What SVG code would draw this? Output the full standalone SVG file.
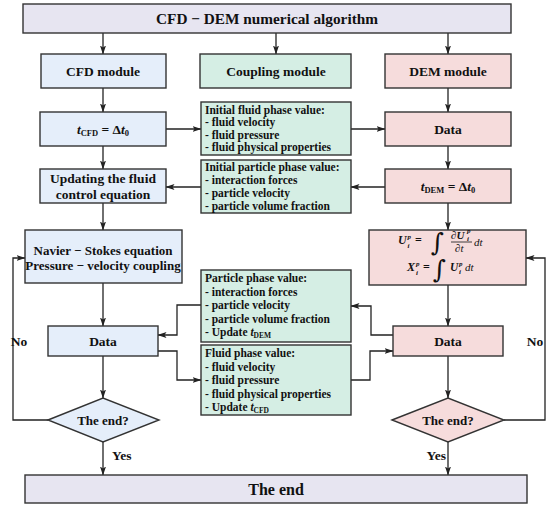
<svg xmlns="http://www.w3.org/2000/svg" width="550" height="508" viewBox="0 0 550 508">
<defs>
<marker id="ah" markerWidth="9" markerHeight="7" refX="8.5" refY="3.5" orient="auto" markerUnits="userSpaceOnUse">
<path d="M0,0.5 L9,3.5 L0,6.5 L2,3.5 z" fill="#222"/>
</marker>
<style>
.bx{stroke:#333;stroke-width:1.4}
.lav{fill:#e7e5f1}
.blu{fill:#e5eefa}
.grn{fill:#d5eee4}
.pnk{fill:#f6dcdc}
text{font-family:"Liberation Serif","Times New Roman",serif;font-weight:bold;fill:#111}
.c{text-anchor:middle}
.m{font-size:13.5px}
.l{font-size:11.5px}
.it{font-style:italic}
.sm{font-size:7px;font-style:italic}
.nw{font-weight:normal}
.int{font-family:"DejaVu Serif",serif;font-weight:normal;font-size:25px}
.cn{fill:none;stroke:#222;stroke-width:1.3;marker-end:url(#ah)}
</style>
</defs>
<rect width="550" height="508" fill="#fff"/>

<g id="connectors">
<path class="cn" d="M103,33V54"/>
<path class="cn" d="M276,33V54"/>
<path class="cn" d="M448,33V54"/>
<path class="cn" d="M103,88V112"/>
<path class="cn" d="M103,146V169"/>
<path class="cn" d="M103,203V230"/>
<path class="cn" d="M103,283V326"/>
<path class="cn" d="M103,356V398"/>
<path class="cn" d="M103,442V475"/>
<path class="cn" d="M48,420H13V258H25"/>
<path class="cn" d="M166,129H201"/>
<path class="cn" d="M351,129H385"/>
<path class="cn" d="M448,88V112"/>
<path class="cn" d="M448,146V169"/>
<path class="cn" d="M385,187H351"/>
<path class="cn" d="M201,187H166"/>
<path class="cn" d="M448,203V230"/>
<path class="cn" d="M448,285V326"/>
<path class="cn" d="M448,356V398"/>
<path class="cn" d="M448,442V475"/>
<path class="cn" d="M504,420H545V258H526"/>
<path class="cn" d="M201,305H177V335H158"/>
<path class="cn" d="M158,351H177V380H201"/>
<path class="cn" d="M393,335H371V306H351"/>
<path class="cn" d="M351,380H370V351H393"/>
<text x="19" y="346" class="c m">No</text>
<text x="535" y="346" class="c m">No</text>
<text x="112" y="460" class="m">Yes</text>
<text x="446" y="460" class="m" text-anchor="end">Yes</text>
</g>

<g id="title">
<rect class="bx lav" x="23" y="4" width="488" height="29"/>
<text x="267" y="24" class="c" font-size="15.3">CFD − DEM numerical algorithm</text>
</g>

<g id="cfd-module">
<rect class="bx blu" x="41" y="54" width="125" height="34"/>
<text x="103" y="76" class="c m">CFD module</text>
</g>
<g id="coupling-module">
<rect class="bx grn" x="200" y="54" width="151" height="34"/>
<text x="276" y="76" class="c m">Coupling module</text>
</g>
<g id="dem-module">
<rect class="bx pnk" x="385" y="54" width="126" height="34"/>
<text x="448" y="76" class="c m">DEM module</text>
</g>

<g id="t-cfd">
<rect class="bx blu" x="40" y="112" width="126" height="34"/>
<text x="103" y="134" class="c m"><tspan class="it">t</tspan><tspan font-size="8.5" dy="2">CFD</tspan><tspan dy="-2"> = Δ</tspan><tspan class="it">t</tspan><tspan font-size="8.5" dy="2">0</tspan></text>
</g>
<g id="updating">
<rect class="bx blu" x="40" y="169" width="126" height="34"/>
<text x="103" y="183" class="c m">Updating the fluid</text>
<text x="103" y="199" class="c m">control equation</text>
</g>
<g id="navier">
<rect class="bx blu" x="25" y="230" width="157" height="53"/>
<text x="103" y="255" class="c" font-size="13">Navier − Stokes equation</text>
<text x="103" y="270" class="c" font-size="13">Pressure − velocity coupling</text>
</g>
<g id="cfd-data">
<rect class="bx blu" x="48" y="326" width="110" height="30"/>
<text x="103" y="346" class="c m">Data</text>
</g>
<g id="cfd-end">
<path class="bx blu" d="M48,420L103,398L159,420L103,442z"/>
<text x="103" y="425" class="c" font-size="13">The end?</text>
</g>

<g id="init-fluid">
<rect class="bx grn" x="201" y="102" width="150" height="53"/>
<text x="205" y="113.5" class="l">Initial fluid phase value:</text>
<text x="205" y="126" class="l">- fluid velocity</text>
<text x="205" y="138.5" class="l">- fluid pressure</text>
<text x="205" y="151" class="l">- fluid physical properties</text>
</g>
<g id="init-particle">
<rect class="bx grn" x="201" y="160" width="150" height="53"/>
<text x="205" y="171" class="l">Initial particle phase value:</text>
<text x="205" y="184" class="l">- interaction forces</text>
<text x="205" y="197" class="l">- particle velocity</text>
<text x="205" y="210" class="l">- particle volume fraction</text>
</g>
<g id="particle-phase">
<rect class="bx grn" x="201" y="270" width="150" height="72"/>
<text x="205" y="282" class="l">Particle phase value:</text>
<text x="205" y="296" class="l">- interaction forces</text>
<text x="205" y="309" class="l">- particle velocity</text>
<text x="205" y="323" class="l">- particle volume fraction</text>
<text x="205" y="336" class="l">- Update <tspan class="it">t</tspan><tspan font-size="7.5" dy="2">DEM</tspan></text>
</g>
<g id="fluid-phase">
<rect class="bx grn" x="201" y="345" width="150" height="70"/>
<text x="205" y="357" class="l">Fluid phase value:</text>
<text x="205" y="371" class="l">- fluid velocity</text>
<text x="205" y="384" class="l">- fluid pressure</text>
<text x="205" y="398" class="l">- fluid physical properties</text>
<text x="205" y="411" class="l">- Update <tspan class="it">t</tspan><tspan font-size="7.5" dy="2">CFD</tspan></text>
</g>

<g id="dem-data1">
<rect class="bx pnk" x="385" y="112" width="126" height="34"/>
<text x="448" y="134" class="c m">Data</text>
</g>
<g id="t-dem">
<rect class="bx pnk" x="385" y="169" width="126" height="34"/>
<text x="448" y="191" class="c m"><tspan class="it">t</tspan><tspan font-size="8.5" dy="2">DEM</tspan><tspan dy="-2"> = Δ</tspan><tspan class="it">t</tspan><tspan font-size="8.5" dy="2">0</tspan></text>
</g>
<g id="equations">
<rect class="bx pnk" x="369" y="230" width="157" height="55"/>
<text x="398" y="244" font-size="12" class="it">U</text>
<text x="407.5" y="239" class="sm">p</text>
<text x="407.5" y="247.5" class="sm">i</text>
<text x="415" y="244" font-size="12">=</text>
<text x="431" y="250.5" class="int">∫</text>
<text x="451" y="239" font-size="11" class="nw">∂<tspan font-weight="bold" class="it">U</tspan></text>
<text x="467" y="233" class="sm" font-size="6">p</text>
<text x="467" y="241" class="sm" font-size="6">i</text>
<path d="M451,242H472" stroke="#111" stroke-width="0.8"/>
<text x="455" y="251.5" font-size="11" class="nw">∂<tspan class="it">t</tspan></text>
<text x="474" y="246" font-size="11" class="nw it">dt</text>
<text x="407" y="271" font-size="12" class="it">X</text>
<text x="416" y="266" class="sm">p</text>
<text x="416" y="274.5" class="sm">i</text>
<text x="423" y="271" font-size="12">=</text>
<text x="433" y="277.5" class="int">∫</text>
<text x="450" y="271" font-size="11.5" class="it">U</text>
<text x="459" y="266" class="sm" font-size="6.5">p</text>
<text x="459" y="274" class="sm" font-size="6.5">i</text>
<text x="465" y="271" font-size="11" class="nw it">dt</text>
</g>
<g id="dem-data2">
<rect class="bx pnk" x="393" y="326" width="110" height="30"/>
<text x="448" y="346" class="c m">Data</text>
</g>
<g id="dem-end">
<path class="bx pnk" d="M392,420L448,398L504,420L448,442z"/>
<text x="448" y="425" class="c" font-size="13">The end?</text>
</g>

<g id="the-end">
<rect class="bx lav" x="25" y="475" width="502" height="28"/>
<text x="276" y="495" class="c" font-size="16">The end</text>
</g>
</svg>
